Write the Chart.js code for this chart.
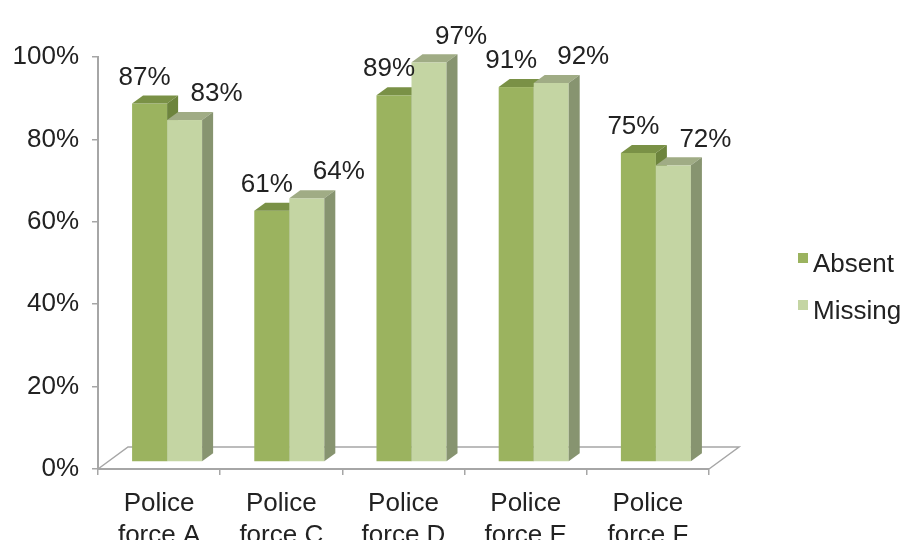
<!DOCTYPE html>
<html>
<head>
<meta charset="utf-8">
<script src="https://cdn.jsdelivr.net/npm/chart.js@4.4.1/dist/chart.umd.min.js"></script>
<style>
  html, body { margin: 0; padding: 0; background: #ffffff; }
  #wrap { width: 906px; height: 540px; }
</style>
</head>
<body>
<div id="wrap"><canvas id="c" width="906" height="540"></canvas></div>
<script>
// ---- data ----
const categories = [["Police", "force A"], ["Police", "force C"], ["Police", "force D"], ["Police", "force E"], ["Police", "force F"]];
const seriesNames = ["Absent", "Missing"];
const absentValues = [87, 61, 89, 91, 75];
const missingValues = [83, 64, 97, 92, 72];
const yTicks = [0, 20, 40, 60, 80, 100];

// ---- styles ----
const FONT = '"Liberation Sans", Arial, Helvetica, sans-serif';
const TEXT = '#222222';
const AXIS = '#a6a6a6';
const faceColors = [
  { front: '#9bb35f', top: '#7a9146', side: '#6d843d' },
  { front: '#c4d5a3', top: '#a0ac85', side: '#879470' }
];
const depth = { dx: 11, dy: 8 };      // bar depth
const shift = { dx: 8, dy: 7 };       // bars sit back from front floor edge
const floorDepth = { dx: 30, dy: 22 };
const labelNudge = [-5, 32];          // per-series horizontal nudge for value labels

const bars3d = {
  id: 'bars3d',
  beforeDatasetsDraw(chart) {
    const ctx = chart.ctx, a = chart.chartArea;
    ctx.save();
    // floor
    ctx.strokeStyle = AXIS;
    ctx.lineWidth = 1.5;
    ctx.beginPath();
    ctx.moveTo(a.left, a.bottom);
    ctx.lineTo(a.left + floorDepth.dx, a.bottom - floorDepth.dy);
    ctx.lineTo(a.right + floorDepth.dx, a.bottom - floorDepth.dy);
    ctx.lineTo(a.right, a.bottom);
    ctx.stroke();

    const metas = chart.data.datasets.map((d, i) => chart.getDatasetMeta(i));
    const n = chart.data.labels.length;
    const labels = [];
    for (let j = 0; j < n; j++) {
      for (let i = 0; i < metas.length; i++) {
        const el = metas[i].data[j];
        const c = faceColors[i];
        const x0 = el.x - el.width / 2 + shift.dx;
        const x1 = el.x + el.width / 2 + shift.dx;
        const yt = el.y - shift.dy;
        const yb = el.base - shift.dy;
        // front
        ctx.fillStyle = c.front;
        ctx.fillRect(x0, yt, x1 - x0, yb - yt);
        // top
        ctx.fillStyle = c.top;
        ctx.beginPath();
        ctx.moveTo(x0, yt);
        ctx.lineTo(x1, yt);
        ctx.lineTo(x1 + depth.dx, yt - depth.dy);
        ctx.lineTo(x0 + depth.dx, yt - depth.dy);
        ctx.closePath();
        ctx.fill();
        // side
        ctx.fillStyle = c.side;
        ctx.beginPath();
        ctx.moveTo(x1, yt);
        ctx.lineTo(x1 + depth.dx, yt - depth.dy);
        ctx.lineTo(x1 + depth.dx, yb - depth.dy);
        ctx.lineTo(x1, yb);
        ctx.closePath();
        ctx.fill();
        const v = chart.data.datasets[i].data[j];
        labels.push({ x: (x0 + x1) / 2 + labelNudge[i], y: yt - 26, t: v + '%' });
      }
    }
    ctx.fillStyle = TEXT;
    ctx.font = '26px ' + FONT;
    ctx.textAlign = 'center';
    ctx.textBaseline = 'middle';
    labels.forEach(l => ctx.fillText(l.t, l.x, l.y));
    ctx.restore();
    return false;
  },
  afterDraw(chart) {
    const ctx = chart.ctx;
    ctx.save();
    ctx.font = '26px ' + FONT;
    ctx.textAlign = 'left';
    ctx.textBaseline = 'middle';
    chart.data.datasets.forEach((ds, i) => {
      const y = 265 + i * 47;
      ctx.fillStyle = faceColors[i].front;
      ctx.fillRect(798, y - 12, 10, 10);
      ctx.fillStyle = TEXT;
      ctx.fillText(ds.label, 813, y);
    });
    ctx.restore();
  }
};

new Chart(document.getElementById('c'), {
  type: 'bar',
  data: {
    labels: categories,
    datasets: [
      { label: seriesNames[0], data: absentValues, backgroundColor: faceColors[0].front },
      { label: seriesNames[1], data: missingValues, backgroundColor: faceColors[1].front }
    ]
  },
  options: {
    responsive: false,
    animation: false,
    layout: { padding: { left: 0, right: 197, top: 57, bottom: 0 } },
    datasets: { bar: { categoryPercentage: 0.573, barPercentage: 1.0 } },
    plugins: { legend: { display: false }, tooltip: { enabled: false } },
    scales: {
      x: {
        grid: { display: true, offset: true, drawOnChartArea: false, drawTicks: true, tickLength: 6, color: AXIS, lineWidth: 1.5 },
        border: { display: true, color: AXIS, width: 2 },
        ticks: { color: TEXT, font: { family: FONT, size: 26, lineHeight: 1.23 }, padding: 13, maxRotation: 0, autoSkip: false },
        afterFit(scale) { scale.height = 71; }
      },
      y: {
        min: 0, max: 100,
        afterBuildTicks(scale) { scale.ticks = yTicks.map(v => ({ value: v })); },
        grid: { display: true, drawOnChartArea: false, drawTicks: true, tickLength: 6, color: AXIS, lineWidth: 1.5 },
        border: { display: true, color: AXIS, width: 2 },
        ticks: { color: TEXT, font: { family: FONT, size: 26 }, padding: 13, callback: v => v + '%' },
        afterFit(scale) { scale.width = 98; }
      }
    }
  },
  plugins: [bars3d]
});
</script>
</body>
</html>
